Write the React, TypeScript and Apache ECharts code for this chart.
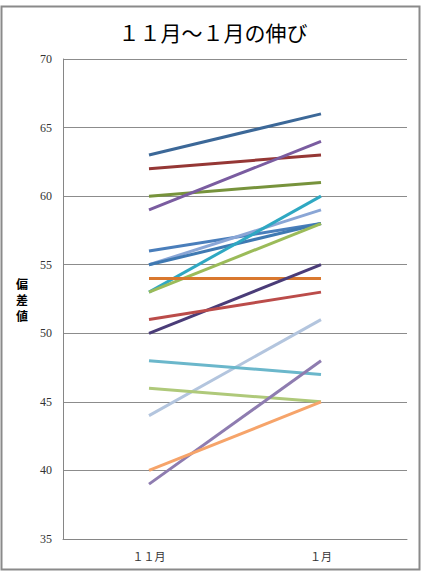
import React, { useEffect, useRef } from "react";
import * as echarts from "echarts";

const categories = ["１１月", "１月"];
const novValues = [63, 62, 60, 59, 56, 55, 55, 53, 53, 54, 50, 51, 44, 48, 46, 39, 40];
const janValues = [66, 63, 61, 64, 58, 59, 58, 60, 58, 54, 55, 53, 51, 47, 45, 48, 45];
const lineColors = [
  "#3C6898", "#953735", "#77933C", "#7A5CA0", "#4A7EBB", "#8AA6D6", "#3F79B2",
  "#2FA8C2", "#9BBB59", "#D9782F", "#4A3C78", "#BB4C4A", "#B3C5DE", "#6BB7CB",
  "#AFC97A", "#8E7CB0", "#F6A46A",
];
const yTicks = { min: 35, max: 70, interval: 5 };
const titleText = "１１月～１月の伸び";
const yName = "偏差値";

export default function App() {
  const ref = useRef<HTMLDivElement>(null);
  useEffect(() => {
    document.body.style.margin = "0";
    const chart = echarts.init(ref.current!, null, { renderer: "svg" });
    const series = novValues.map((v, i) => ({
      type: "line",
      data: [v, janValues[i]],
      symbol: "none",
      lineStyle: { color: lineColors[i], width: 3 },
      z: 3 + i,
    }));
    const nameChars = yName.split("").map((ch, i) => ({
      type: "text",
      x: 16,
      y: 277 + i * 16,
      style: {
        text: ch,
        fontFamily: "Noto Sans CJK JP",
        fontWeight: "bold",
        fontSize: 12,
        lineHeight: 12,
        fill: "#000",
      },
    }));
    chart.setOption({
      animation: false,
      backgroundColor: "#fff",
      title: {
        text: titleText,
        left: "center",
        top: 16,
        textStyle: {
          fontFamily: "Noto Sans CJK JP",
          fontWeight: "normal",
          fontSize: 21,
          color: "#000",
        },
      },
      graphic: [
        {
          type: "rect",
          shape: { x: 1.5, y: 6.5, width: 418, height: 563 },
          style: { fill: "none", stroke: "#8a8a8a", lineWidth: 2 },
          silent: true,
        },
        ...nameChars,
      ],
      grid: { left: 63, right: 19, top: 59, bottom: 41 },
      xAxis: {
        type: "category",
        data: categories,
        boundaryGap: true,
        axisLine: { lineStyle: { color: "#868686", width: 1 } },
        axisTick: { show: false },
        axisLabel: {
          margin: 11,
          fontFamily: "Noto Sans CJK JP",
          fontSize: 11,
          color: "#333",
        },
      },
      yAxis: {
        type: "value",
        min: yTicks.min,
        max: yTicks.max,
        interval: yTicks.interval,
        axisLine: { show: true, lineStyle: { color: "#868686", width: 1 } },
        axisTick: { show: false },
        splitLine: { lineStyle: { color: "#8c8c8c", width: 1 } },
        axisLabel: {
          margin: 11,
          fontFamily: "Liberation Serif",
          fontSize: 12,
          color: "#333",
        },
      },
      series,
    });
    return () => chart.dispose();
  }, []);
  return <div ref={ref} style={{ width: 426, height: 580 }} />;
}
